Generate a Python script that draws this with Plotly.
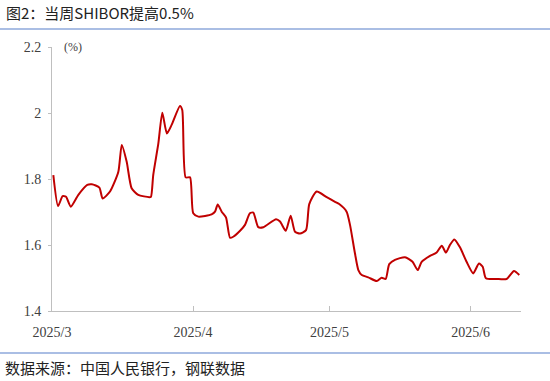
import plotly.graph_objects as go

# Data
dates = [
    "2025-03-01 07:00", "2025-03-02 08:00", "2025-03-03 08:00", "2025-03-04 02:00",
    "2025-03-05 03:00", "2025-03-06 19:00", "2025-03-08 18:00", "2025-03-09 18:00",
    "2025-03-11 10:00", "2025-03-12 03:00", "2025-03-13 18:00", "2025-03-15 14:00",
    "2025-03-16 08:00", "2025-03-17 10:00", "2025-03-18 12:00", "2025-03-19 23:00",
    "2025-03-22 09:00", "2025-03-22 18:00", "2025-03-23 06:00", "2025-03-24 09:00",
    "2025-03-25 06:00", "2025-03-26 06:00", "2025-03-27 07:00", "2025-03-29 03:00",
    "2025-03-29 15:00", "2025-03-30 09:00", "2025-03-31 08:00", "2025-04-01 01:00",
    "2025-04-02 04:00", "2025-04-05 02:00", "2025-04-05 20:00", "2025-04-06 10:00",
    "2025-04-07 07:00", "2025-04-08 06:00", "2025-04-09 03:00", "2025-04-09 20:00",
    "2025-04-11 08:00", "2025-04-12 10:00", "2025-04-13 12:00", "2025-04-14 06:00",
    "2025-04-15 08:00", "2025-04-16 11:00", "2025-04-19 06:00", "2025-04-20 03:00",
    "2025-04-21 09:00", "2025-04-22 11:00", "2025-04-23 10:00", "2025-04-24 12:00",
    "2025-04-25 20:00", "2025-04-26 13:00", "2025-04-28 04:00", "2025-04-30 09:00",
    "2025-05-02 05:00", "2025-05-03 03:00", "2025-05-04 18:00", "2025-05-05 12:00",
    "2025-05-06 14:00", "2025-05-07 08:00", "2025-05-08 02:00", "2025-05-09 12:00",
    "2025-05-11 09:00", "2025-05-12 11:00", "2025-05-13 08:00", "2025-05-14 03:00",
    "2025-05-15 09:00", "2025-05-17 14:00", "2025-05-19 06:00", "2025-05-20 09:00",
    "2025-05-21 06:00", "2025-05-23 02:00", "2025-05-24 13:00", "2025-05-25 16:00",
    "2025-05-26 14:00", "2025-05-27 11:00", "2025-05-28 10:00", "2025-05-29 16:00",
    "2025-05-31 03:00", "2025-06-01 14:00", "2025-06-02 20:00", "2025-06-03 16:00",
    "2025-06-04 09:00", "2025-06-06 18:00", "2025-06-08 22:00", "2025-06-10 13:00",
    "2025-06-11 17:00",
]
shibor = [
    1.812, 1.718, 1.748, 1.746,
    1.716, 1.752, 1.782, 1.784,
    1.774, 1.741, 1.762, 1.822,
    1.903, 1.852, 1.772, 1.752,
    1.745, 1.746, 1.812, 1.908,
    2.001, 1.938, 1.964, 2.021,
    2.009, 1.805, 1.805, 1.696,
    1.686, 1.693, 1.701, 1.723,
    1.701, 1.683, 1.622, 1.625,
    1.643, 1.661, 1.696, 1.698,
    1.654, 1.654, 1.678, 1.671,
    1.643, 1.689, 1.640, 1.635,
    1.645, 1.724, 1.762, 1.745,
    1.731, 1.724, 1.701, 1.661,
    1.575, 1.524, 1.509, 1.502,
    1.491, 1.501, 1.497, 1.542,
    1.555, 1.563, 1.549, 1.524,
    1.549, 1.567, 1.577, 1.598,
    1.577, 1.600, 1.617, 1.593,
    1.549, 1.514, 1.544, 1.534,
    1.499, 1.497, 1.497, 1.521,
    1.509,
]
x_tick_vals = ["2025-03-01", "2025-04-01", "2025-05-01", "2025-06-01"]
x_tick_text = ["2025/3", "2025/4", "2025/5", "2025/6"]
y_tick_vals = [1.4, 1.6, 1.8, 2.0, 2.2]
y_tick_text = ["1.4", "1.6", "1.8", "2", "2.2"]

title_text = "图2：当周SHIBOR提高0.5%"
source_text = "数据来源：中国人民银行，钢联数据"
unit_text = "(%)"

serif = "Liberation Serif, Times New Roman, serif"
cjk = "Noto Sans CJK SC, sans-serif"

fig = go.Figure()
fig.add_trace(go.Scatter(
    x=dates, y=shibor, mode="lines",
    line=dict(color="#C00000", width=2, shape="spline", smoothing=0.6),
    showlegend=False, hoverinfo="x+y",
))

fig.update_layout(
    width=550, height=381,
    margin=dict(l=52, r=29, t=47, b=70),
    paper_bgcolor="white", plot_bgcolor="white",
    xaxis=dict(
        type="date",
        range=["2025-03-01", "2025-06-12 02:00"],
        tickmode="array", tickvals=x_tick_vals, ticktext=x_tick_text,
        ticks="inside", ticklen=5, tickcolor="#BFBFBF", tickwidth=1,
        showline=True, linecolor="#BFBFBF", linewidth=1,
        showgrid=False, zeroline=False,
        tickfont=dict(family=serif, size=14, color="#404040"),
        ticklabelstandoff=8,
    ),
    yaxis=dict(
        range=[1.4, 2.2],
        tickmode="array", tickvals=y_tick_vals, ticktext=y_tick_text,
        ticks="outside", ticklen=3, tickcolor="#BFBFBF", tickwidth=1,
        showline=True, linecolor="#BFBFBF", linewidth=1,
        showgrid=False, zeroline=False,
        tickfont=dict(family=serif, size=14, color="#404040"),
        ticklabelstandoff=4,
    ),
    shapes=[
        dict(type="line", xref="paper", yref="paper",
             x0=-52/469, x1=(550-52)/469, y0=(311-29)/264, y1=(311-29)/264,
             line=dict(color="#8EA9DB", width=1.5)),
        dict(type="line", xref="paper", yref="paper",
             x0=-52/469, x1=(550-52)/469, y0=(311-353)/264, y1=(311-353)/264,
             line=dict(color="#8EA9DB", width=1.5)),
    ],
    annotations=[
        dict(text=title_text, xref="paper", yref="paper",
             x=-48/469, y=(311-13)/264, xanchor="left", yanchor="middle",
             showarrow=False, font=dict(family=cjk, size=15, color="#222222")),
        dict(text=source_text, xref="paper", yref="paper",
             x=-49/469, y=(311-367)/264, xanchor="left", yanchor="middle",
             showarrow=False, font=dict(family=cjk, size=15, color="#222222")),
        dict(text=unit_text, xref="paper", yref="y",
             x=21/469, y=2.2, xanchor="center", yanchor="middle",
             showarrow=False, font=dict(family=serif, size=12, color="#404040")),
    ],
)

fig.write_html(
    "out.html",
    config={"displayModeBar": False},
    post_script="document.body.style.margin='0';document.body.style.overflow='hidden';",
)
